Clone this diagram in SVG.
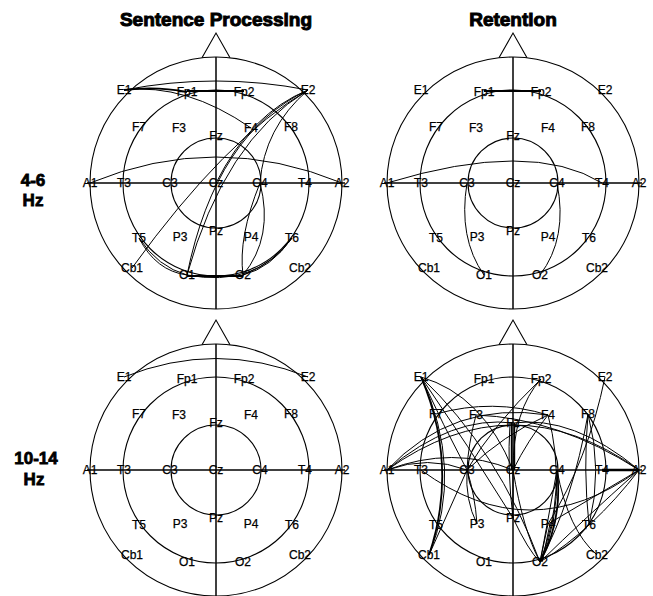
<svg xmlns="http://www.w3.org/2000/svg" xmlns:xlink="http://www.w3.org/1999/xlink" width="653" height="596" viewBox="0 0 653 596">
<style>
.title{font-family:"Liberation Sans",Arial,sans-serif;font-weight:bold;font-size:19px;text-anchor:middle;fill:#000;stroke:#000;stroke-width:1}
.row{font-family:"Liberation Sans",Arial,sans-serif;font-weight:bold;font-size:17px;text-anchor:middle;fill:#000;stroke:#000;stroke-width:0.8}
.lbl{font-family:"Liberation Sans",Arial,sans-serif;font-size:12px;text-anchor:middle;fill:#000;stroke:#000;stroke-width:0.25}
.ring{fill:none;stroke:#000;stroke-width:1.1}
.axis{fill:none;stroke:#000;stroke-width:1.5}
.con{fill:none;stroke:#000;stroke-width:1}
.thick{fill:none;stroke:#000;stroke-width:1.8}
</style>
<defs>
<g id="head">
<circle class="ring" cx="0" cy="0" r="126"/>
<circle class="ring" cx="0" cy="0" r="93"/>
<circle class="ring" cx="0" cy="0" r="45"/>
<polyline class="ring" points="-14,-125.2 0,-150 14,-125.2"/>
<line class="axis" x1="0" y1="-126" x2="0" y2="126"/>
<line class="axis" x1="-129" y1="0" x2="129" y2="0"/>
</g>
</defs>

<text class="title" x="216" y="26">Sentence Processing</text>
<text class="title" x="513" y="26">Retention</text>
<text class="row" x="33" y="186">4-6</text>
<text class="row" x="33" y="206">Hz</text>
<text class="row" x="36" y="464">10-14</text>
<text class="row" x="34" y="485">Hz</text>

<!-- Top-left: 4-6 Hz, Sentence Processing -->
<g id="panel-tl" transform="translate(216,183)">
<use xlink:href="#head"/>
<g id="tl-connectors">
<path class="con" d="M -126 0 Q 0 -52 126 0"/>
<path class="con" d="M -92 -93 Q 0 -111 92 -93"/>
<path class="thick" d="M -92 -93 Q -60 -97 -29 -91"/>
<path class="con" d="M -92 -93 Q -30 -100 35 -55"/>
<path class="thick" d="M -29 -92 L 28 -92"/>
<path class="con" d="M 92 -93 Q 48 -55 44 0"/>
<path class="con" d="M 92 -93 Q 35 -70 0 0"/>
<path class="con" d="M 92 -93 Q 0 -50 -29 92"/>
<path class="con" d="M 92 -93 Q 8 -42 -29 92"/>
<path class="con" d="M 92 -93 Q 10 -45 -84 85"/>
<path class="con" d="M 44 0 Q 22 54 27 92"/>
<path class="con" d="M 44 0 Q 58 54 27 92"/>
<path class="con" d="M -77 55 Q -60 88 -29 92"/>
<path class="con" d="M -77 55 Q -58 84 -29 92"/>
<path class="thick" d="M -29 93 L 27 93"/>
<path class="con" d="M 27 92 Q 55 85 76 55"/>
<path class="con" d="M 27 92 Q 58 80 76 55"/>
<path class="con" d="M -29 92 Q 40 105 76 55"/>
</g>
<g id="tl-nodes">
<text class="lbl" id="tl-E1" x="-92" y="-89">E1</text>
<text class="lbl" id="tl-Fp1" x="-29" y="-87">Fp1</text>
<text class="lbl" id="tl-Fp2" x="28" y="-87">Fp2</text>
<text class="lbl" id="tl-E2" x="92" y="-89">E2</text>
<text class="lbl" id="tl-F7" x="-77" y="-52">F7</text>
<text class="lbl" id="tl-F3" x="-37" y="-51">F3</text>
<text class="lbl" id="tl-Fz" x="0" y="-43">Fz</text>
<text class="lbl" id="tl-F4" x="35" y="-51">F4</text>
<text class="lbl" id="tl-F8" x="75" y="-52">F8</text>
<text class="lbl" id="tl-A1" x="-126" y="4">A1</text>
<text class="lbl" id="tl-T3" x="-92" y="4">T3</text>
<text class="lbl" id="tl-C3" x="-46" y="4">C3</text>
<text class="lbl" id="tl-Cz" x="0" y="4">Cz</text>
<text class="lbl" id="tl-C4" x="44" y="4">C4</text>
<text class="lbl" id="tl-T4" x="89" y="4">T4</text>
<text class="lbl" id="tl-A2" x="126" y="4">A2</text>
<text class="lbl" id="tl-T5" x="-77" y="59">T5</text>
<text class="lbl" id="tl-P3" x="-36" y="58">P3</text>
<text class="lbl" id="tl-Pz" x="0" y="52">Pz</text>
<text class="lbl" id="tl-P4" x="35" y="58">P4</text>
<text class="lbl" id="tl-T6" x="76" y="59">T6</text>
<text class="lbl" id="tl-Cb1" x="-84" y="89">Cb1</text>
<text class="lbl" id="tl-O1" x="-29" y="96">O1</text>
<text class="lbl" id="tl-O2" x="27" y="96">O2</text>
<text class="lbl" id="tl-Cb2" x="84" y="89">Cb2</text>
</g>
</g>

<!-- Top-right: 4-6 Hz, Retention -->
<g id="panel-tr" transform="translate(513,183)">
<use xlink:href="#head"/>
<g id="tr-connectors">
<path class="con" d="M -126 0 Q 18 -44 89 0"/>
<path class="thick" d="M -29 -92 L 28 -92"/>
<path class="con" d="M -46 0 Q -55 55 -29 92"/>
<path class="con" d="M 44 0 Q 55 55 27 92"/>
</g>
<g id="tr-nodes">
<text class="lbl" id="tr-E1" x="-92" y="-89">E1</text>
<text class="lbl" id="tr-Fp1" x="-29" y="-87">Fp1</text>
<text class="lbl" id="tr-Fp2" x="28" y="-87">Fp2</text>
<text class="lbl" id="tr-E2" x="92" y="-89">E2</text>
<text class="lbl" id="tr-F7" x="-77" y="-52">F7</text>
<text class="lbl" id="tr-F3" x="-37" y="-51">F3</text>
<text class="lbl" id="tr-Fz" x="0" y="-43">Fz</text>
<text class="lbl" id="tr-F4" x="35" y="-51">F4</text>
<text class="lbl" id="tr-F8" x="75" y="-52">F8</text>
<text class="lbl" id="tr-A1" x="-126" y="4">A1</text>
<text class="lbl" id="tr-T3" x="-92" y="4">T3</text>
<text class="lbl" id="tr-C3" x="-46" y="4">C3</text>
<text class="lbl" id="tr-Cz" x="0" y="4">Cz</text>
<text class="lbl" id="tr-C4" x="44" y="4">C4</text>
<text class="lbl" id="tr-T4" x="89" y="4">T4</text>
<text class="lbl" id="tr-A2" x="126" y="4">A2</text>
<text class="lbl" id="tr-T5" x="-77" y="59">T5</text>
<text class="lbl" id="tr-P3" x="-36" y="58">P3</text>
<text class="lbl" id="tr-Pz" x="0" y="52">Pz</text>
<text class="lbl" id="tr-P4" x="35" y="58">P4</text>
<text class="lbl" id="tr-T6" x="76" y="59">T6</text>
<text class="lbl" id="tr-Cb1" x="-84" y="89">Cb1</text>
<text class="lbl" id="tr-O1" x="-29" y="96">O1</text>
<text class="lbl" id="tr-O2" x="27" y="96">O2</text>
<text class="lbl" id="tr-Cb2" x="84" y="89">Cb2</text>
</g>
</g>

<!-- Bottom-left: 10-14 Hz, Sentence Processing -->
<g id="panel-bl" transform="translate(216,470)">
<use xlink:href="#head"/>
<g id="bl-connectors">
<path class="con" d="M -92 -93 Q 0 -130 92 -93"/>
</g>
<g id="bl-nodes">
<text class="lbl" id="bl-E1" x="-92" y="-89">E1</text>
<text class="lbl" id="bl-Fp1" x="-29" y="-87">Fp1</text>
<text class="lbl" id="bl-Fp2" x="28" y="-87">Fp2</text>
<text class="lbl" id="bl-E2" x="92" y="-89">E2</text>
<text class="lbl" id="bl-F7" x="-77" y="-52">F7</text>
<text class="lbl" id="bl-F3" x="-37" y="-51">F3</text>
<text class="lbl" id="bl-Fz" x="0" y="-43">Fz</text>
<text class="lbl" id="bl-F4" x="35" y="-51">F4</text>
<text class="lbl" id="bl-F8" x="75" y="-52">F8</text>
<text class="lbl" id="bl-A1" x="-126" y="4">A1</text>
<text class="lbl" id="bl-T3" x="-92" y="4">T3</text>
<text class="lbl" id="bl-C3" x="-46" y="4">C3</text>
<text class="lbl" id="bl-Cz" x="0" y="4">Cz</text>
<text class="lbl" id="bl-C4" x="44" y="4">C4</text>
<text class="lbl" id="bl-T4" x="89" y="4">T4</text>
<text class="lbl" id="bl-A2" x="126" y="4">A2</text>
<text class="lbl" id="bl-T5" x="-77" y="59">T5</text>
<text class="lbl" id="bl-P3" x="-36" y="58">P3</text>
<text class="lbl" id="bl-Pz" x="0" y="52">Pz</text>
<text class="lbl" id="bl-P4" x="35" y="58">P4</text>
<text class="lbl" id="bl-T6" x="76" y="59">T6</text>
<text class="lbl" id="bl-Cb1" x="-84" y="89">Cb1</text>
<text class="lbl" id="bl-O1" x="-29" y="96">O1</text>
<text class="lbl" id="bl-O2" x="27" y="96">O2</text>
<text class="lbl" id="bl-Cb2" x="84" y="89">Cb2</text>
</g>
</g>

<!-- Bottom-right: 10-14 Hz, Retention -->
<g id="panel-br" transform="translate(513,470)">
<use xlink:href="#head"/>
<g id="br-connectors">
<path class="thick" d="M -92 -93 Q -54 -4 -84 85"/>
<path class="con" d="M -92 -93 Q -49 0 -84 85"/>
<path class="con" d="M -92 -93 Q -70 -45 -46 0"/>
<path class="con" d="M -92 -93 Q -45 -25 0 48"/>
<path class="con" d="M -92 -93 Q -15 -20 27 92"/>
<path class="con" d="M -92 -93 Q -30 -75 0 0"/>
<path class="con" d="M -77 -56 Q -20 -72 35 -55"/>
<path class="con" d="M -37 -55 Q 45 -52 126 0"/>
<path class="con" d="M -126 0 Q -60 -70 35 -55"/>
<path class="con" d="M -126 0 Q -60 -55 0 -47"/>
<path class="con" d="M -126 0 Q 0 -90 126 0"/>
<path class="con" d="M -126 0 Q -85 -15 -46 0"/>
<path class="con" d="M -126 0 Q -60 -25 0 0"/>
<path class="con" d="M -92 0 Q 17 80 126 0"/>
<path class="con" d="M -1.5 -47 L -1.5 0" style="stroke-width:1.4"/>
<path class="con" d="M 1.5 -47 L 1.5 0" style="stroke-width:1.4"/>
<path class="con" d="M 0 0 L 0 48"/>
<path class="con" d="M -3 -47 Q -6 0 0 48"/>
<path class="con" d="M 28 -91 Q -20 -45 -46 0"/>
<path class="con" d="M 28 -91 Q 0 -60 0 0"/>
<path class="con" d="M -46 0 L -84 85"/>
<path class="con" d="M -37 -55 Q -45 -25 -46 0"/>
<path class="con" d="M -46 0 Q -48 30 -36 54"/>
<path class="con" d="M -46 0 Q -38 25 -36 54"/>
<path class="con" d="M 0 0 Q 10 60 27 92"/>
<path class="con" d="M 0 48 Q 15 80 27 92"/>
<path class="con" d="M 44 0 Q 35 50 27 92"/>
<path class="con" d="M 44 0 Q 45 55 27 92"/>
<path class="thick" d="M 44 0 Q 50 50 27 92"/>
<path class="con" d="M 44 0 Q 55 60 84 85"/>
<path class="con" d="M 35 -55 Q 55 20 27 92"/>
<path class="con" d="M 35 -55 Q -10 -35 -46 0"/>
<path class="con" d="M 35 -55 Q 15 -30 0 0"/>
<path class="con" d="M 92 -93 Q 75 -10 35 54"/>
<path class="con" d="M 75 -56 Q 90 0 76 55"/>
<path class="con" d="M 75 -56 Q 70 0 76 55"/>
<path class="con" d="M 75 -56 Q 60 30 27 92"/>
<path class="con" d="M 89 0 L 126 0" style="stroke-width:2.6"/>
<path class="con" d="M 126 0 Q 80 60 27 92"/>
<path class="con" d="M 126 0 Q 70 50 27 92"/>
<path class="con" d="M 126 0 L 35 54"/>
<path class="con" d="M 126 0 Q 60 -55 0 -47"/>
<path class="con" d="M 27 92 L 35 54"/>
<path class="con" d="M 29 92 L 37 54"/>
</g>
<g id="br-nodes">
<text class="lbl" id="br-E1" x="-92" y="-89">E1</text>
<text class="lbl" id="br-Fp1" x="-29" y="-87">Fp1</text>
<text class="lbl" id="br-Fp2" x="28" y="-87">Fp2</text>
<text class="lbl" id="br-E2" x="92" y="-89">E2</text>
<text class="lbl" id="br-F7" x="-77" y="-52">F7</text>
<text class="lbl" id="br-F3" x="-37" y="-51">F3</text>
<text class="lbl" id="br-Fz" x="0" y="-43">Fz</text>
<text class="lbl" id="br-F4" x="35" y="-51">F4</text>
<text class="lbl" id="br-F8" x="75" y="-52">F8</text>
<text class="lbl" id="br-A1" x="-126" y="4">A1</text>
<text class="lbl" id="br-T3" x="-92" y="4">T3</text>
<text class="lbl" id="br-C3" x="-46" y="4">C3</text>
<text class="lbl" id="br-Cz" x="0" y="4">Cz</text>
<text class="lbl" id="br-C4" x="44" y="4">C4</text>
<text class="lbl" id="br-T4" x="89" y="4">T4</text>
<text class="lbl" id="br-A2" x="126" y="4">A2</text>
<text class="lbl" id="br-T5" x="-77" y="59">T5</text>
<text class="lbl" id="br-P3" x="-36" y="58">P3</text>
<text class="lbl" id="br-Pz" x="0" y="52">Pz</text>
<text class="lbl" id="br-P4" x="35" y="58">P4</text>
<text class="lbl" id="br-T6" x="76" y="59">T6</text>
<text class="lbl" id="br-Cb1" x="-84" y="89">Cb1</text>
<text class="lbl" id="br-O1" x="-29" y="96">O1</text>
<text class="lbl" id="br-O2" x="27" y="96">O2</text>
<text class="lbl" id="br-Cb2" x="84" y="89">Cb2</text>
</g>
</g>
</svg>
